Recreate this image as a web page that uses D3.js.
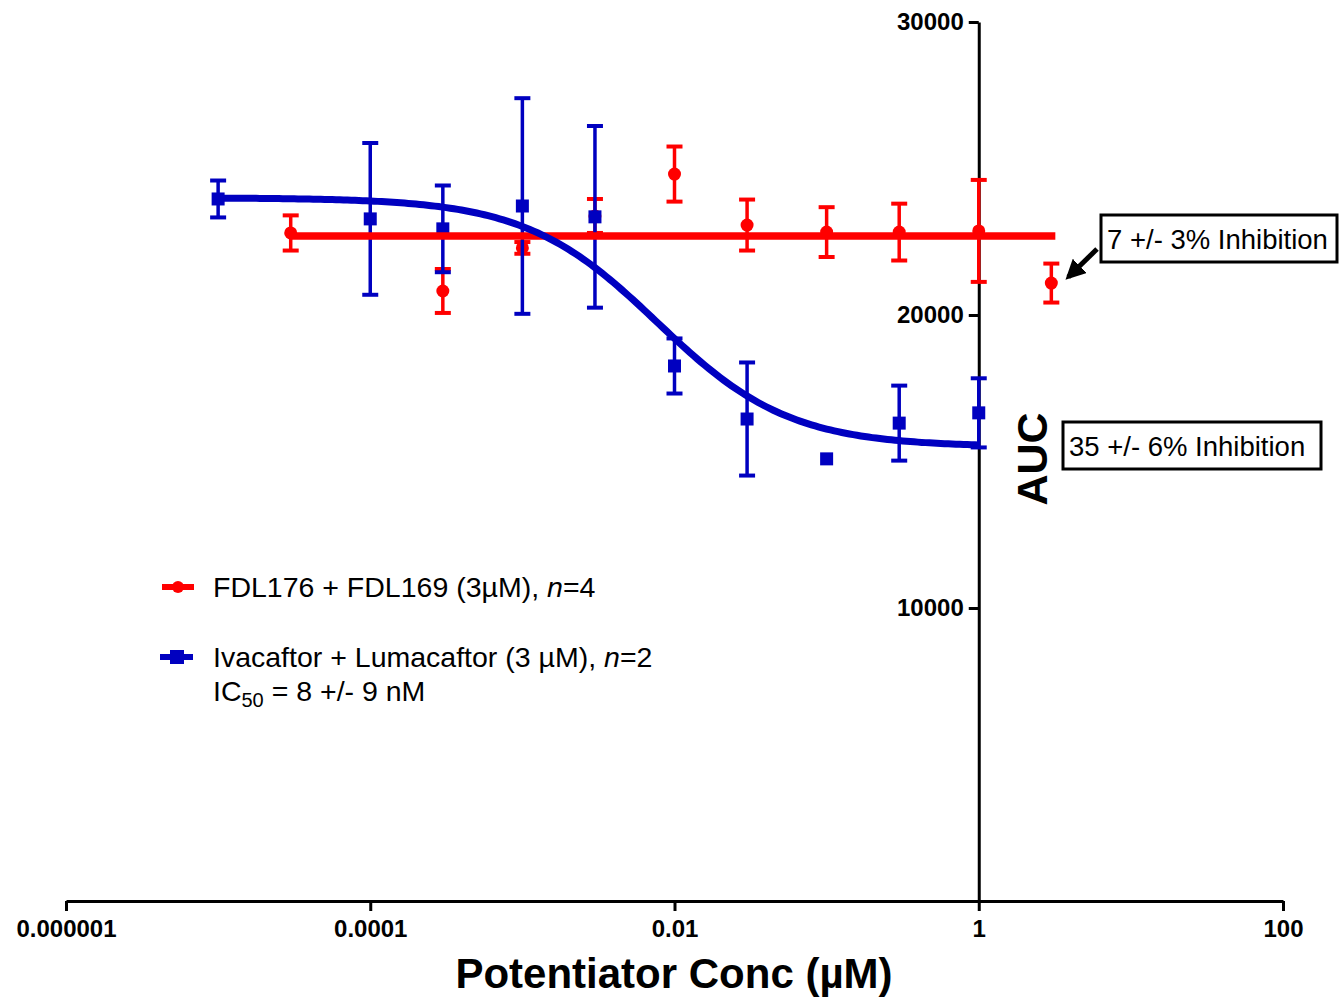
<!DOCTYPE html>
<html>
<head>
<meta charset="utf-8">
<script src="https://cdn.jsdelivr.net/npm/d3@7"></script>
<style>
  body { margin: 0; background: #fff; }
  svg { display: block; font-family: Arial, "Liberation Sans", sans-serif; }
</style>
</head>
<body>
<svg id="chart" width="1339" height="997"></svg>
<script>
// concentrations (µM)
var redConc  = [3e-5, 3e-4, 1e-3, 3e-3, 0.01, 0.03, 0.1, 0.3, 1, 3];
var redAUC   = [22800, 20820, 22290, 23380, 24810, 23070, 22830, 22830, 22870, 21090];
var redErr   = [600, 750, 200, 580, 940, 870, 850, 970, 1740, 665];

var blueConc = [1e-5, 1e-4, 3e-4, 1e-3, 3e-3, 0.01, 0.03, 0.1, 0.3, 1];
var blueAUC  = [23960, 23280, 22940, 23720, 23350, 18260, 16450, 15090, 16310, 16660];
var blueErr  = [630, 2590, 1480, 3680, 3100, 940, 1930, 0, 1280, 1180];

// fits: red flat (no inhibition fit), blue 4-parameter logistic
var redFitLevel = 22700;
var blueFit = { top: 24000, bottom: 15500, ic50: 0.0077, hill: 1 };

var xTickValues = [1e-6, 1e-4, 1e-2, 1, 100];
var xTickLabels = ["0.000001", "0.0001", "0.01", "1", "100"];
var yTickValues = [10000, 20000, 30000];

var RED = "#ff0000", BLUE = "#0000c0";

var svg = d3.select("#chart");

var x = d3.scaleLog().domain([1e-6, 100]).range([66, 1283]);
var y = d3.scaleLinear().domain([0, 30000]).range([901, 22]);

// axes
var xAxis = d3.axisBottom(x)
    .tickValues(xTickValues)
    .tickFormat(function(d, i) { return xTickLabels[i]; })
    .tickSize(10).tickSizeOuter(0).tickPadding(9);

var gx = svg.append("g").attr("transform", "translate(0," + y(0) + ")").call(xAxis);

var yAxis = d3.axisLeft(y)
    .tickValues(yTickValues)
    .tickFormat(d3.format("d"))
    .tickSize(10).tickSizeOuter(0).tickPadding(5);

var gy = svg.append("g").attr("transform", "translate(" + x(1) + ",0)").call(yAxis);

[gx, gy].forEach(function(g) {
  g.select(".domain").attr("stroke", "#000").attr("stroke-width", 3);
  g.selectAll(".tick line").attr("stroke", "#000").attr("stroke-width", 3);
  g.selectAll(".tick text")
    .attr("fill", "#000")
    .style("font-size", "24px")
    .style("font-weight", "bold")
    .style("font-family", "Arial, 'Liberation Sans', sans-serif");
});

// axis titles
var xt = svg.append("text")
    .attr("x", 674).attr("y", 988)
    .attr("text-anchor", "middle")
    .style("font-size", "42px").style("font-weight", "bold");
xt.append("tspan").text("Potentiator Conc (");
xt.append("tspan").text("µ");
xt.append("tspan").text("M)");

svg.append("text")
    .attr("transform", "translate(1047,459) rotate(-90)")
    .attr("text-anchor", "middle")
    .style("font-size", "43px").style("font-weight", "bold")
    .text("AUC");

// data helpers
function makeRows(conc, vals, errs) {
  return conc.map(function(c, i) { return { c: c, v: vals[i], e: errs[i] }; });
}
var redData = makeRows(redConc, redAUC, redErr);
var blueData = makeRows(blueConc, blueAUC, blueErr);

function drawErrorBars(data, color) {
  var g = svg.append("g").attr("stroke", color);
  var withErr = data.filter(function(d) { return d.e > 0; });
  g.selectAll(".vbar").data(withErr).enter().append("line")
    .attr("x1", function(d) { return x(d.c); })
    .attr("x2", function(d) { return x(d.c); })
    .attr("y1", function(d) { return y(d.v + d.e); })
    .attr("y2", function(d) { return y(d.v - d.e); })
    .attr("stroke-width", 3.5);
  g.selectAll(".capT").data(withErr).enter().append("line")
    .attr("x1", function(d) { return x(d.c) - 8; })
    .attr("x2", function(d) { return x(d.c) + 8; })
    .attr("y1", function(d) { return y(d.v + d.e); })
    .attr("y2", function(d) { return y(d.v + d.e); })
    .attr("stroke-width", 4);
  g.selectAll(".capB").data(withErr).enter().append("line")
    .attr("x1", function(d) { return x(d.c) - 8; })
    .attr("x2", function(d) { return x(d.c) + 8; })
    .attr("y1", function(d) { return y(d.v - d.e); })
    .attr("y2", function(d) { return y(d.v - d.e); })
    .attr("stroke-width", 4);
}

// red data
drawErrorBars(redData, RED);
svg.append("g").selectAll("circle").data(redData).enter().append("circle")
    .attr("cx", function(d) { return x(d.c); })
    .attr("cy", function(d) { return y(d.v); })
    .attr("r", 6.5)
    .attr("fill", RED);

// blue data
drawErrorBars(blueData, BLUE);
svg.append("g").selectAll("rect").data(blueData).enter().append("rect")
    .attr("x", function(d) { return x(d.c) - 6.5; })
    .attr("y", function(d) { return y(d.v) - 6.5; })
    .attr("width", 13).attr("height", 13)
    .attr("fill", BLUE);

// red fit line
var redExt = d3.extent(redConc);
svg.append("line")
    .attr("x1", x(redExt[0])).attr("x2", x(redExt[1]) + 4)
    .attr("y1", y(redFitLevel)).attr("y2", y(redFitLevel))
    .attr("stroke", RED).attr("stroke-width", 7.5);

// blue fit curve
var blueExt = d3.extent(blueConc);
var logX = d3.scaleLinear().domain([0, 200])
    .range([Math.log10(blueExt[0]), Math.log10(blueExt[1])]);
var curvePts = d3.range(0, 201).map(function(i) {
  var c = Math.pow(10, logX(i));
  var v = blueFit.bottom + (blueFit.top - blueFit.bottom) /
          (1 + Math.pow(c / blueFit.ic50, blueFit.hill));
  return [x(c), y(v)];
});
svg.append("path")
    .attr("d", d3.line()(curvePts))
    .attr("fill", "none")
    .attr("stroke", BLUE).attr("stroke-width", 7);

// legend
var legend = svg.append("g").style("font-size", "28.5px");
legend.append("line").attr("x1", 162).attr("x2", 194).attr("y1", 587).attr("y2", 587)
    .attr("stroke", RED).attr("stroke-width", 6);
legend.append("circle").attr("cx", 178).attr("cy", 587).attr("r", 6).attr("fill", RED);
legend.append("line").attr("x1", 160).attr("x2", 193).attr("y1", 657).attr("y2", 657)
    .attr("stroke", BLUE).attr("stroke-width", 6);
legend.append("rect").attr("x", 170).attr("y", 650).attr("width", 14).attr("height", 14).attr("fill", BLUE);

var t1 = legend.append("text").attr("x", 213).attr("y", 597);
t1.append("tspan").text("FDL176 + FDL169 (3");
t1.append("tspan").text("µ");
t1.append("tspan").text("M), ");
t1.append("tspan").style("font-style", "italic").text("n");
t1.append("tspan").text("=4");

var t2 = legend.append("text").attr("x", 213).attr("y", 667);
t2.append("tspan").text("Ivacaftor + Lumacaftor (3 ");
t2.append("tspan").text("µ");
t2.append("tspan").text("M), ");
t2.append("tspan").style("font-style", "italic").text("n");
t2.append("tspan").text("=2");

var t3 = legend.append("text").attr("x", 213).attr("y", 701);
t3.append("tspan").text("IC");
t3.append("tspan").attr("dy", 6).style("font-size", "20px").text("50");
t3.append("tspan").attr("dy", -6).text(" = 8 +/- 9 nM");

// annotation boxes
function box(bx, by, w, h, label) {
  var g = svg.append("g");
  g.append("rect").attr("x", bx).attr("y", by).attr("width", w).attr("height", h)
    .attr("fill", "#fff").attr("stroke", "#000").attr("stroke-width", 3);
  g.append("text").attr("x", bx + 6).attr("y", by + 34)
    .style("font-size", "27.5px").text(label);
}
box(1101, 215, 236, 47, "7 +/- 3% Inhibition");
box(1063, 422, 258, 47, "35 +/- 6% Inhibition");

// arrow to last red point
var last = redData[redData.length - 1];
var tipX = x(last.c) + 12, tipY = y(last.v) - 2;
svg.append("defs").append("marker")
    .attr("id", "ah").attr("viewBox", "0 0 10 10")
    .attr("refX", 8).attr("refY", 5)
    .attr("markerWidth", 4).attr("markerHeight", 4)
    .attr("markerUnits", "strokeWidth")
    .attr("orient", "auto")
  .append("path").attr("d", "M0,0 L10,5 L0,10 Z").attr("fill", "#000");
svg.append("line")
    .attr("x1", 1097).attr("y1", 249)
    .attr("x2", tipX + 5).attr("y2", tipY - 4)
    .attr("stroke", "#000").attr("stroke-width", 5)
    .attr("marker-end", "url(#ah)");
</script>
</body>
</html>
